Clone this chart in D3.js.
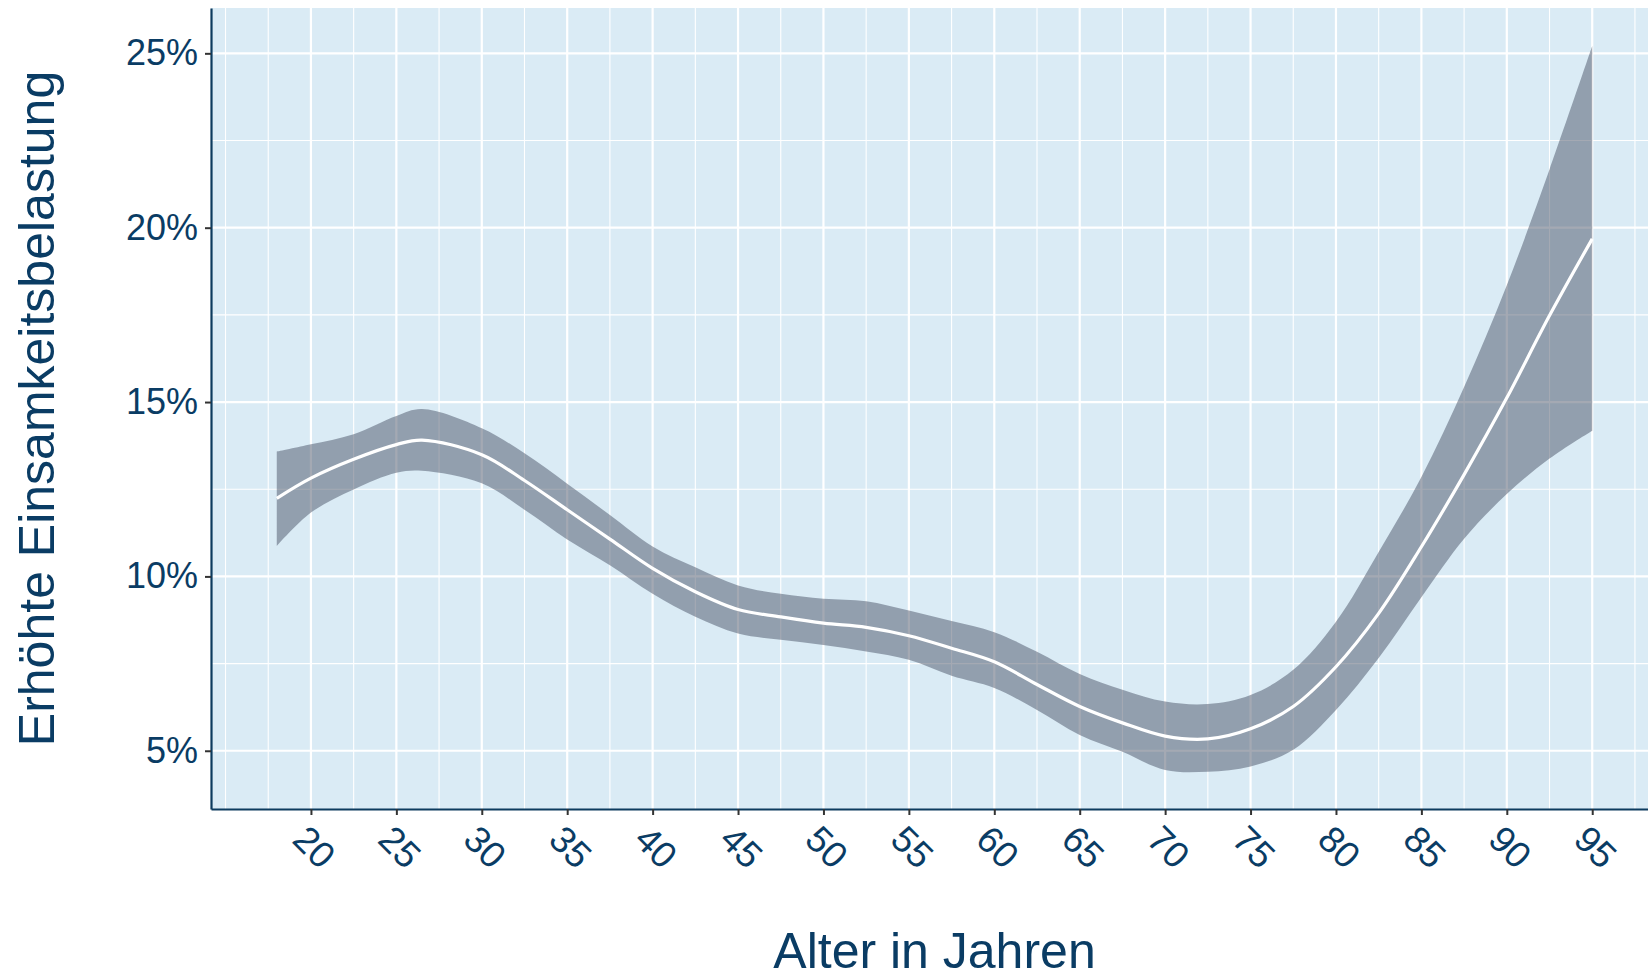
<!DOCTYPE html>
<html>
<head>
<meta charset="utf-8">
<script src="https://cdn.jsdelivr.net/npm/d3@7"></script>
<style>
  body { margin: 0; background: #fff; }
  text { font-family: "Liberation Sans", Arial, sans-serif; }
</style>
</head>
<body>
<div id="graph-wrapper"></div>
<script>
// Alter (Jahre) und geschätzte Anteile
const ages  = [18, 20, 22.5, 25, 26.5, 30, 32.5, 35, 37.5, 40, 42.5, 45, 47.5, 50, 52.5, 55, 57.5, 60, 62.5, 65, 67.5, 70, 72.5, 75, 77.5, 80, 82.5, 85, 87.5, 90, 92.5, 95];
const fit   = [12.24, 12.82, 13.36, 13.78, 13.91, 13.49, 12.75, 11.91, 11.07, 10.23, 9.56, 9.05, 8.84, 8.66, 8.54, 8.30, 7.94, 7.55, 6.90, 6.27, 5.80, 5.42, 5.34, 5.63, 6.27, 7.41, 8.94, 10.85, 12.92, 15.12, 17.48, 19.68];
const upper = [13.58, 13.79, 14.08, 14.60, 14.80, 14.25, 13.53, 12.66, 11.76, 10.86, 10.26, 9.74, 9.50, 9.36, 9.29, 9.02, 8.72, 8.40, 7.84, 7.20, 6.75, 6.41, 6.34, 6.60, 7.32, 8.70, 10.70, 12.85, 15.43, 18.35, 21.67, 25.21];
const lower = [10.87, 11.83, 12.49, 12.97, 13.03, 12.67, 11.91, 11.06, 10.32, 9.50, 8.84, 8.36, 8.18, 8.03, 7.85, 7.61, 7.15, 6.80, 6.17, 5.45, 4.97, 4.45, 4.40, 4.55, 5.03, 6.17, 7.66, 9.40, 11.08, 12.36, 13.38, 14.18];

const xTicks = [20, 25, 30, 35, 40, 45, 50, 55, 60, 65, 70, 75, 80, 85, 90, 95];
const yTicks = [5, 10, 15, 20, 25];
const xMinor = [15, 17.5, 22.5, 27.5, 32.5, 37.5, 42.5, 47.5, 52.5, 57.5, 62.5, 67.5, 72.5, 77.5, 82.5, 87.5, 92.5, 97.5];
const yMinor = [7.5, 12.5, 17.5, 22.5];

const xTitle = 'Alter in Jahren';
const yTitle = 'Erhöhte Einsamkeitsbelastung';

function drawChart() {
  const width = 1648;
  const height = 979;
  const marginTop = 8;
  const marginRight = -10;   // panel runs past the right edge
  const marginBottom = 170;
  const marginLeft = 211;

  const textColor = '#0a3c64';

  const rows = ages.map((a, i) => ({ age: a, fit: fit[i], lo: lower[i], hi: upper[i] }));

  const x = d3.scaleLinear()
    .domain([14.15, 98.85])
    .range([marginLeft, width - marginRight]);

  const y = d3.scaleLinear()
    .domain([3.33, 26.3])
    .range([height - marginBottom, marginTop]);

  const svg = d3.select('#graph-wrapper').append('svg')
    .attr('width', width)
    .attr('height', height);

  // panel background
  svg.append('rect')
    .attr('x', marginLeft)
    .attr('y', marginTop)
    .attr('width', x.range()[1] - marginLeft)
    .attr('height', y.range()[0] - marginTop)
    .attr('fill', '#daebf5');

  // grid lines, minor then major
  const grid = svg.append('g').attr('stroke', '#ffffff');
  grid.selectAll('.vminor').data(xMinor).join('line')
    .attr('x1', d => x(d)).attr('x2', d => x(d))
    .attr('y1', marginTop).attr('y2', y.range()[0])
    .attr('stroke-width', 1.1);
  grid.selectAll('.hminor').data(yMinor).join('line')
    .attr('y1', d => y(d)).attr('y2', d => y(d))
    .attr('x1', marginLeft).attr('x2', x.range()[1])
    .attr('stroke-width', 1.1);
  grid.selectAll('.vmajor').data(xTicks).join('line')
    .attr('x1', d => x(d)).attr('x2', d => x(d))
    .attr('y1', marginTop).attr('y2', y.range()[0])
    .attr('stroke-width', 2.2);
  grid.selectAll('.hmajor').data(yTicks).join('line')
    .attr('y1', d => y(d)).attr('y2', d => y(d))
    .attr('x1', marginLeft).attr('x2', x.range()[1])
    .attr('stroke-width', 2.2);

  // confidence band
  const band = d3.area()
    .x(d => x(d.age))
    .y0(d => y(d.lo))
    .y1(d => y(d.hi))
    .curve(d3.curveCatmullRom.alpha(0.5));

  svg.append('path')
    .datum(rows)
    .attr('d', band)
    .attr('fill', '#4a5367')
    .attr('fill-opacity', 0.5);

  // fitted line
  const line = d3.line()
    .x(d => x(d.age))
    .y(d => y(d.fit))
    .curve(d3.curveCatmullRom.alpha(0.5));

  svg.append('path')
    .datum(rows)
    .attr('d', line)
    .attr('fill', 'none')
    .attr('stroke', '#ffffff')
    .attr('stroke-width', 3.2);

  // x axis
  const xAxis = d3.axisBottom(x)
    .tickValues(xTicks)
    .tickSize(6)
    .tickSizeOuter(0);

  const gx = svg.append('g')
    .attr('transform', `translate(0,${y.range()[0]})`)
    .call(xAxis);
  gx.select('.domain').attr('stroke', '#0d3b5e').attr('stroke-width', 2.2);
  gx.selectAll('.tick line').attr('stroke', '#333333').attr('stroke-width', 2);
  gx.selectAll('.tick text')
    .attr('x', 0).attr('y', 0).attr('dy', '0.35em')
    .attr('text-anchor', 'middle')
    .attr('transform', 'translate(3,38) rotate(45)')
    .attr('fill', textColor)
    .style('font-size', '37px');

  // y axis
  const yAxis = d3.axisLeft(y)
    .tickValues(yTicks)
    .tickFormat(d => d + '%')
    .tickSize(6)
    .tickPadding(7)
    .tickSizeOuter(0);

  const gy = svg.append('g')
    .attr('transform', `translate(${marginLeft},0)`)
    .call(yAxis);
  gy.select('.domain').attr('stroke', '#0d3b5e').attr('stroke-width', 2.2);
  gy.selectAll('.tick line').attr('stroke', '#333333').attr('stroke-width', 2);
  gy.selectAll('.tick text')
    .attr('fill', textColor)
    .style('font-size', '36px');

  // axis titles
  svg.append('text')
    .text(xTitle)
    .attr('x', (marginLeft + x.range()[1]) / 2)
    .attr('y', 968)
    .attr('text-anchor', 'middle')
    .attr('fill', textColor)
    .style('font-size', '50px');

  svg.append('text')
    .text(yTitle)
    .attr('transform', `translate(54,${(marginTop + y.range()[0]) / 2}) rotate(-90)`)
    .attr('text-anchor', 'middle')
    .attr('fill', textColor)
    .style('font-size', '50px');
}

if (document.readyState !== 'loading') {
  drawChart();
} else { document.addEventListener('DOMContentLoaded', () => drawChart()); }
</script>
</body>
</html>
